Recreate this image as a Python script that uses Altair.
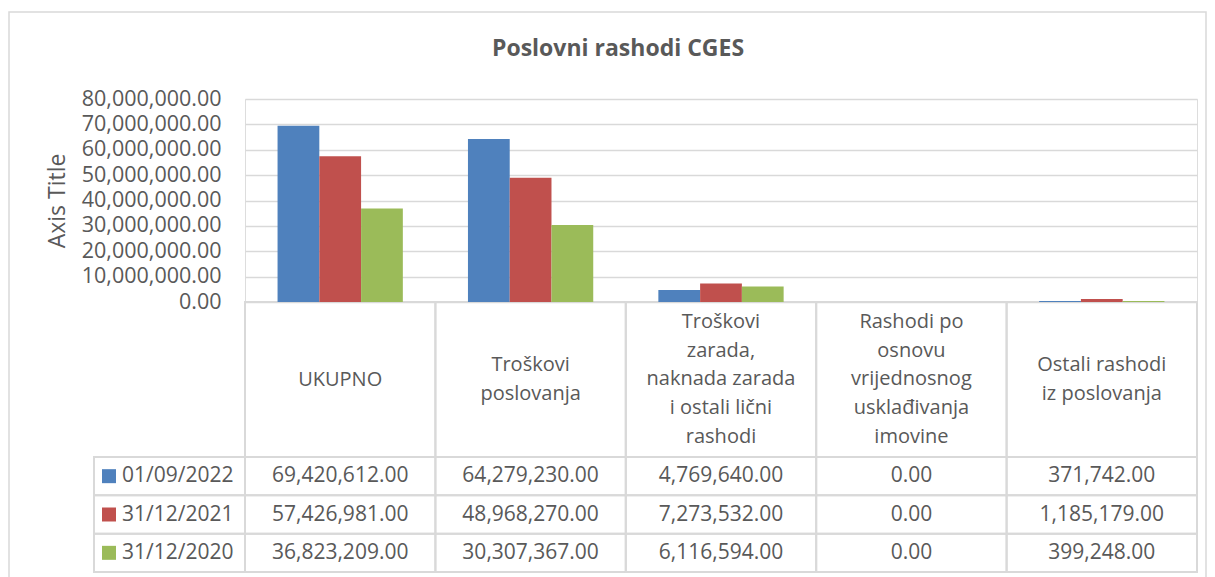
import altair as alt
import pandas as pd

# ---------------- data ----------------
categories = [
    "UKUPNO",
    "Troškovi poslovanja",
    "Troškovi zarada, naknada zarada i ostali lični rashodi",
    "Rashodi po osnovu vrijednosnog usklađivanja imovine",
    "Ostali rashodi iz poslovanja",
]
header_labels = [
    "UKUPNO",
    "Troškovi\nposlovanja",
    "Troškovi\nzarada,\nnaknada zarada\ni ostali lični\nrashodi",
    "Rashodi po\nosnovu\nvrijednosnog\nusklađivanja\nimovine",
    "Ostali rashodi\niz poslovanja",
]
series = ["01/09/2022", "31/12/2021", "31/12/2020"]
values_2022 = [69420612, 64279230, 4769640, 0, 371742]
values_2021 = [57426981, 48968270, 7273532, 0, 1185179]
values_2020 = [36823209, 30307367, 6116594, 0, 399248]
colors = ["#4f81bd", "#c0504d", "#9bbb59"]
y_ticks = [0, 10000000, 20000000, 30000000, 40000000, 50000000, 60000000, 70000000, 80000000]
title_text = "Poslovni rashodi CGES"
axis_title = "Axis Title"

rows = []
for s, vals in zip(series, [values_2022, values_2021, values_2020]):
    for c, v in zip(categories, vals):
        rows.append({"category": c, "series": s, "value": v})
long_df = pd.DataFrame(rows)
header_df = pd.DataFrame({
    "category": categories,
    "label": header_labels,
    "row": ["header"] * len(categories),
    "nlines": [lbl.count("\n") + 1 for lbl in header_labels],
})
legend_df = pd.DataFrame({"series": series, "col": ["legend"] * len(series)})
frame_df = pd.DataFrame({"f": [0]})

# ---------------- style ----------------
W, H = 952, 203
HEAD_H = 155
TAB_H = 270
LEG_W = 151
FONT = "Open Sans"
GREY = "#595959"
LINE = "#d9d9d9"
LH = 28.7

bar_x = alt.Scale(domain=categories, paddingInner=0.342, paddingOuter=0.171)
tab_x = alt.Scale(domain=categories, range=[0, W], paddingInner=0, paddingOuter=0)
head_y = alt.Scale(domain=["header"], range=[H, H + HEAD_H], paddingInner=0, paddingOuter=0)
row_y = alt.Scale(domain=series, range=[H + HEAD_H, H + TAB_H], paddingInner=0, paddingOuter=0)
leg_x = alt.Scale(domain=["legend"], range=[-LEG_W, 0], paddingInner=0, paddingOuter=0)
color_scale = alt.Scale(domain=series, range=colors)

frame = alt.Chart(frame_df).mark_rect(filled=False, stroke=LINE, strokeWidth=1.5).encode(
    x=alt.value(-236), x2=alt.value(961), y=alt.value(-87), y2=alt.value(520)
)

bars = alt.Chart(long_df).mark_bar().encode(
    x=alt.X("category:N", scale=bar_x, axis=None),
    xOffset=alt.XOffset("series:N", scale=alt.Scale(domain=series, paddingInner=0, paddingOuter=0)),
    y=alt.Y(
        "value:Q",
        scale=alt.Scale(domain=[0, 80000000], nice=False),
        axis=alt.Axis(
            values=y_ticks, format=",.2f", title=axis_title, grid=True, gridColor=LINE,
            gridWidth=1.5, domain=False, ticks=False, labelPadding=24, labelFont=FONT,
            labelFontSize=21.5, labelColor=GREY, titleFont=FONT, titleFontSize=23,
            titleColor=GREY, titleFontWeight="normal", titlePadding=12,
        ),
    ),
    color=alt.Color("series:N", scale=color_scale, legend=None),
)

head_cells = alt.Chart(header_df).mark_rect(filled=False, stroke=LINE, strokeWidth=2).encode(
    x=alt.X("category:N", scale=tab_x, axis=None),
    y=alt.Y("row:N", scale=head_y, axis=None),
)

# one text layer per line count, so each multi-line label is centred in its cell
head_text_layers = []
for n in sorted(set(header_df["nlines"])):
    head_text_layers.append(
        alt.Chart(header_df).transform_filter(alt.datum.nlines == n).mark_text(
            font=FONT, fontSize=20, color=GREY, lineBreak="\n", lineHeight=LH,
            baseline="middle", align="center", dy=-(n - 1) / 2 * LH,
        ).encode(
            x=alt.X("category:N", scale=tab_x, axis=None),
            y=alt.Y("row:N", scale=head_y, axis=None),
            text="label:N",
        )
    )

data_cells = alt.Chart(long_df).mark_rect(filled=False, stroke=LINE, strokeWidth=2).encode(
    x=alt.X("category:N", scale=tab_x, axis=None),
    y=alt.Y("series:N", scale=row_y, axis=None),
)
data_text = alt.Chart(long_df).mark_text(
    font=FONT, fontSize=21, color=GREY, baseline="middle", align="center"
).encode(
    x=alt.X("category:N", scale=tab_x, axis=None),
    y=alt.Y("series:N", scale=row_y, axis=None),
    text=alt.Text("value:Q", format=",.2f"),
)
leg_cells = alt.Chart(legend_df).mark_rect(filled=False, stroke=LINE, strokeWidth=2).encode(
    x=alt.X("col:N", scale=leg_x, axis=None),
    y=alt.Y("series:N", scale=row_y, axis=None),
)
leg_swatch = alt.Chart(legend_df).mark_square(size=196, opacity=1, xOffset=-60.5).encode(
    x=alt.X("col:N", scale=leg_x, axis=None),
    y=alt.Y("series:N", scale=row_y, axis=None),
    color=alt.Color("series:N", scale=color_scale, legend=None),
)
leg_text = alt.Chart(legend_df).mark_text(
    font=FONT, fontSize=21, color=GREY, baseline="middle", align="left", dx=-47.5
).encode(
    x=alt.X("col:N", scale=leg_x, axis=None),
    y=alt.Y("series:N", scale=row_y, axis=None),
    text="series:N",
)

chart = (
    alt.layer(frame, head_cells, data_cells, leg_cells, bars, *head_text_layers, data_text, leg_swatch, leg_text)
    .resolve_scale(x="independent", y="independent")
    .properties(
        width=W,
        height=H,
        title=alt.TitleParams(
            text=title_text, font=FONT, fontSize=23, fontWeight="bold", color=GREY,
            anchor="middle", frame="group", dx=-103, dy=54,
        ),
        autosize=alt.AutoSizeParams(type="none"),
        padding={"left": 237, "top": 91, "right": 10, "bottom": 290},
    )
    .configure_view(stroke=None)
    .configure(background="white")
)

chart.save("out.html", embed_options={"renderer": "svg", "actions": False})
